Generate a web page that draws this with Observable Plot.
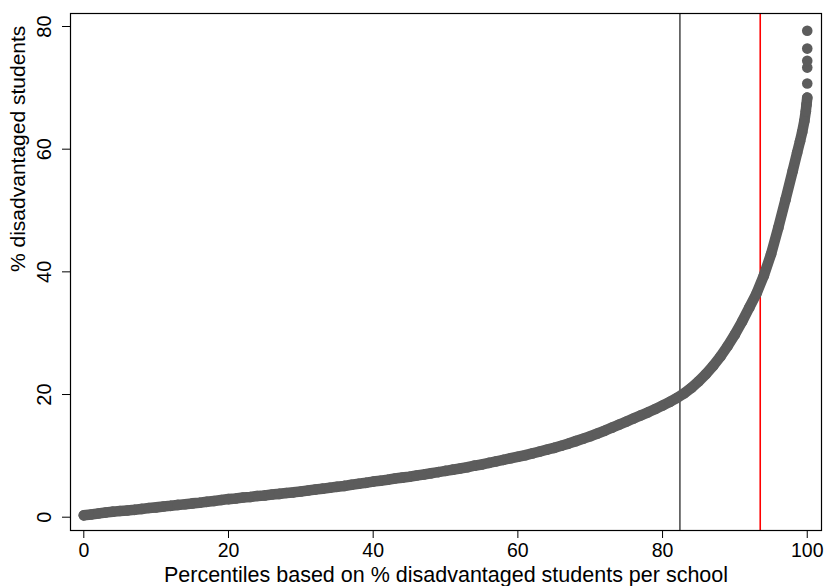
<!DOCTYPE html>
<html><head><meta charset="utf-8">
<script src="https://cdn.jsdelivr.net/npm/d3@7"></script>
<script src="https://cdn.jsdelivr.net/npm/@observablehq/plot@0.6"></script>
<style>body{margin:0;background:#fff}</style>
</head><body><div id="chart"></div>
<script>
// Percentile rank of school (x) and % disadvantaged students (y)
const percentiles = [0,1,2,3,4,5,6,7,8,9,10,11,12,13,14,15,16,17,18,19,20,21,22,23,24,25,26,27,28,29,30,31,32,33,34,35,36,37,38,39,40,41,42,43,44,45,46,47,48,49,50,51,52,53,54,55,56,57,58,59,60,61,62,63,64,65,66,67,68,69,70,71,72,73,74,75,76,77,78,79,80,81,82,83,84,85,86,87,88,89,90,91,92,93,94,95,96,97,98,98.6,99,99.3,99.6,99.8,99.9,100];
const shares = [0.3,0.45,0.6,0.75,0.9,1.0,1.1,1.2,1.35,1.5,1.6,1.75,1.85,2.0,2.1,2.25,2.35,2.5,2.65,2.8,2.95,3.05,3.2,3.3,3.45,3.55,3.7,3.8,3.95,4.05,4.2,4.35,4.5,4.65,4.8,4.95,5.1,5.3,5.45,5.6,5.8,5.95,6.1,6.3,6.45,6.6,6.8,6.95,7.15,7.35,7.55,7.75,7.95,8.15,8.4,8.6,8.85,9.1,9.35,9.6,9.85,10.1,10.4,10.7,11.0,11.3,11.65,12.0,12.4,12.8,13.2,13.65,14.1,14.6,15.1,15.6,16.1,16.6,17.1,17.65,18.2,18.8,19.45,20.2,21.1,22.15,23.35,24.7,26.2,27.9,29.8,31.9,34.2,36.5,39.4,42.9,47.2,51.8,56.5,59.4,61.3,62.8,64.6,66.2,67.3,68.4];
// Isolated highest schools
const topPercentiles = [100,100,100,100,100];
const topShares = [70.7,73.3,74.4,76.4,79.3];
// Reference lines
const cutoffBlack = 82.4;
const cutoffRed = 93.5;
// Axis ticks and labels
const xTicks = [0,20,40,60,80,100];
const yTicks = [0,20,40,60,80];
const xTitle = "Percentiles based on % disadvantaged students per school";
const yTitle = "% disadvantaged students";

const band = percentiles.map((p, i) => ({p, v: shares[i]}));
const tops = topPercentiles.map((p, i) => ({p, v: topShares[i]}));
const dotColor = "#5c5c5c";
const R = 5.3;

const chart = Plot.plot({
  width: 828,
  height: 586,
  marginLeft: 70,
  marginRight: 7,
  marginTop: 13,
  marginBottom: 56,
  style: {fontFamily: "'Liberation Sans', Arial, sans-serif", fontSize: "20px", background: "#fff", color: "#000", overflow: "visible"},
  x: {domain: [-1.84, 101.97]},
  y: {domain: [-2.17, 82.12]},
  marks: [
    Plot.ruleX([cutoffBlack], {stroke: "#383838", strokeWidth: 1.4}),
    Plot.ruleX([cutoffRed], {stroke: "#ff0000", strokeWidth: 1.6}),
    Plot.line(band, {x: "p", y: "v", stroke: dotColor, strokeWidth: 2 * R, strokeLinecap: "round", strokeLinejoin: "round"}),
    Plot.dot(band, {x: "p", y: "v", r: R, fill: dotColor}),
    Plot.dot(tops, {x: "p", y: "v", r: R, fill: dotColor}),
    Plot.frame({stroke: "#000", strokeWidth: 1.2}),
    Plot.axisX(xTicks, {tickSize: 8, tickPadding: 5, label: null, fontSize: 19.5}),
    Plot.axisY(yTicks, {tickSize: 8, tickPadding: 12, tickRotate: -90, label: null, fontSize: 20}),
    Plot.text([xTitle], {frameAnchor: "bottom", dy: 51, fontSize: 21.5}),
    Plot.text([yTitle], {frameAnchor: "left", dx: -52, rotate: -90, fontSize: 21})
  ]
});
document.getElementById("chart").appendChild(chart);
</script>
</body></html>
